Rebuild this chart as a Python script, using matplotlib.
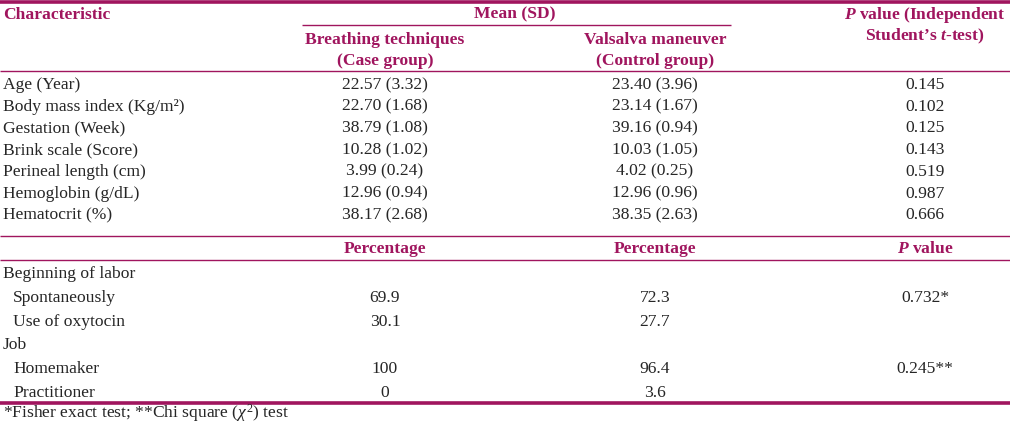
import matplotlib
matplotlib.use("Agg")
import matplotlib.pyplot as plt

plt.rcParams['font.family'] = ['Liberation Serif', 'DejaVu Serif']
plt.rcParams['mathtext.fontset'] = 'custom'
plt.rcParams['mathtext.rm'] = 'Liberation Serif'
plt.rcParams['mathtext.it'] = 'Liberation Serif:italic'
plt.rcParams['mathtext.bf'] = 'Liberation Serif:bold'
plt.rcParams['mathtext.bfit'] = 'Liberation Serif:italic:bold'

# data
mean_labels = ["Age (Year)", "Body mass index (Kg/m²)", "Gestation (Week)",
               "Brink scale (Score)", "Perineal length (cm)",
               "Hemoglobin (g/dL)", "Hematocrit (%)"]
case_mean = ["22.57 (3.32)", "22.70 (1.68)", "38.79 (1.08)", "10.28 (1.02)",
             "3.99 (0.24)", "12.96 (0.94)", "38.17 (2.68)"]
control_mean = ["23.40 (3.96)", "23.14 (1.67)", "39.16 (0.94)", "10.03 (1.05)",
                "4.02 (0.25)", "12.96 (0.96)", "38.35 (2.63)"]
p_ttest = ["0.145", "0.102", "0.125", "0.143", "0.519", "0.987", "0.666"]

pct_labels = ["Beginning of labor", "Spontaneously", "Use of oxytocin",
              "Job", "Homemaker", "Practitioner"]
pct_indent = [False, True, True, False, True, True]
case_pct = ["", "69.9", "30.1", "", "100", "0"]
control_pct = ["", "72.3", "27.7", "", "96.4", "3.6"]
p_pct = ["", "0.732*", "", "", "0.245**", ""]

footnote = r"*Fisher exact test; **Chi square ($\chi^2$) test"

LINE = '#a0155e'
HEAD = '#a0155e'
BODY = '#262626'
FS = 12.6

fig = plt.figure(figsize=(10.1, 4.25), dpi=100)
ax = fig.add_axes([0, 0, 1, 1])
ax.set_xlim(0, 1010)
ax.set_ylim(425, 0)
ax.axis('off')

x_lab, x_ind = 3, 13
x_c1, x_c2, x_p = 385, 655, 925

# rules
ax.hlines(1.5, 0, 1010, color=LINE, lw=2.6)
ax.hlines(25, 302, 731, color=LINE, lw=1.0)
ax.hlines(70.5, 0, 1010, color=LINE, lw=1.0)
ax.hlines(236, 0, 1010, color=LINE, lw=1.0)
ax.hlines(260, 0, 1010, color=LINE, lw=1.0)
ax.hlines(403, 0, 1010, color=LINE, lw=2.6)

hd = dict(color=HEAD, fontsize=FS, fontweight='bold', va='baseline')
ax.text(x_lab, 18.5, "Characteristic", ha='left', **hd)
ax.text(515, 18.5, "Mean (SD)", ha='center', **hd)
ax.text(x_c1, 43.5, "Breathing techniques", ha='center', **hd)
ax.text(x_c1, 64.5, "(Case group)", ha='center', **hd)
ax.text(x_c2, 43.5, "Valsalva maneuver", ha='center', **hd)
ax.text(x_c2, 64.5, "(Control group)", ha='center', **hd)
ax.text(x_p, 18.5, r"$\mathbfit{P}$ value (Independent", ha='center', **hd)
ax.text(x_p, 40, r"Student’s $\mathbfit{t}$-test)", ha='center', **hd)

bd = dict(color=BODY, fontsize=FS, va='baseline')
y0, dy = 89, 21.7
for i in range(len(mean_labels)):
    y = y0 + i * dy
    ax.text(x_lab, y, mean_labels[i], ha='left', **bd)
    ax.text(x_c1, y, case_mean[i], ha='center', **bd)
    ax.text(x_c2, y, control_mean[i], ha='center', **bd)
    ax.text(x_p, y, p_ttest[i], ha='center', **bd)

ax.text(x_c1, 253, "Percentage", ha='center', **hd)
ax.text(x_c2, 253, "Percentage", ha='center', **hd)
ax.text(x_p, 253, r"$\mathbfit{P}$ value", ha='center', **hd)

y0, dy = 278, 23.8
for i in range(len(pct_labels)):
    y = y0 + i * dy
    ax.text(x_ind if pct_indent[i] else x_lab, y, pct_labels[i], ha='left', **bd)
    ax.text(x_c1, y, case_pct[i], ha='center', **bd)
    ax.text(x_c2, y, control_pct[i], ha='center', **bd)
    ax.text(x_p, y, p_pct[i], ha='center', **bd)

ax.text(x_lab, 418, footnote, ha='left', **bd)

fig.savefig('out.png', dpi=100, facecolor='white')
